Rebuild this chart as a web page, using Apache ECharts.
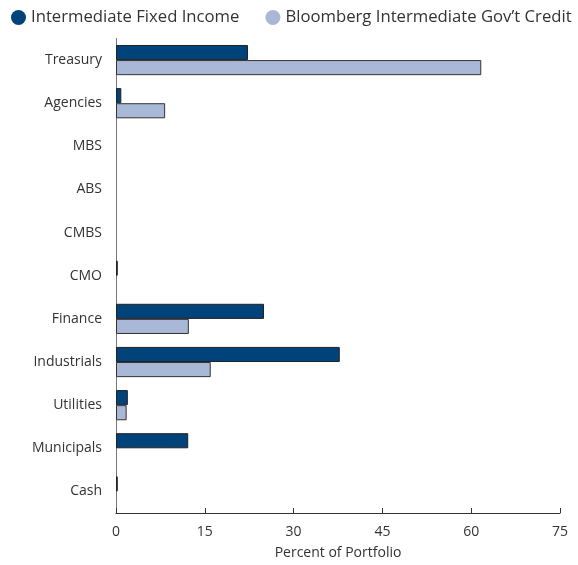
<!DOCTYPE html>
<html><head><meta charset="utf-8">
<script src="https://cdn.jsdelivr.net/npm/echarts@6/dist/echarts.min.js"></script>
<style>html,body{margin:0;padding:0;background:#fff}#c{width:578px;height:565px}</style>
</head><body><div id="c"></div>
<script>
const categories = ["Treasury","Agencies","MBS","ABS","CMBS","CMO","Finance","Industrials","Utilities","Municipals","Cash"];
const fund = [22.3,0.9,0,0,0,0.3,25.0,37.8,2.0,12.2,0.3];
const bench = [61.7,8.3,0,0,0,0,12.3,16.0,1.8,0,0];
const xTicks = [0,15,30,45,60,75];
const seriesNames = ["Intermediate Fixed Income","Bloomberg Intermediate Gov\u2019t Credit"];
const chart = echarts.init(document.getElementById('c'));
const font = "Open Sans";
const hideZero = arr => arr.map(v => v === 0 ? '-' : v);
chart.setOption({
  animation:false,
  textStyle:{fontFamily:font},
  legend:{top:4,left:6,width:640,padding:[5,0,5,5],itemGap:26,icon:'circle',itemWidth:15,itemHeight:15,
    itemStyle:{borderWidth:0},
    textStyle:{fontSize:16.7,color:'#333',fontFamily:font},
    data:seriesNames},
  grid:{left:116,right:18,top:38.5,bottom:51,containLabel:false},
  xAxis:{type:'value',min:xTicks[0],max:xTicks[xTicks.length-1],interval:15,
    name:'Percent of Portfolio',nameLocation:'middle',nameGap:33,
    nameTextStyle:{fontSize:14,color:'#333'},
    axisLine:{show:true,lineStyle:{color:'#333'}},
    axisTick:{show:true,inside:true,length:5,lineStyle:{color:'#333'}},
    axisLabel:{fontSize:14,color:'#333',margin:12},
    splitLine:{show:false}},
  yAxis:{type:'category',inverse:true,data:categories,
    axisLine:{show:true,lineStyle:{color:'#777'}},
    axisTick:{show:false},
    axisLabel:{fontSize:14,color:'#333',margin:14}},
  series:[
    {name:seriesNames[0],type:'bar',data:hideZero(fund),barGap:'0%',barCategoryGap:'30%',
     itemStyle:{color:'#00427a',borderColor:'#222',borderWidth:1}},
    {name:seriesNames[1],type:'bar',data:hideZero(bench),
     itemStyle:{color:'#a9b8d6',borderColor:'#333',borderWidth:1}}
  ]
});
</script></body></html>
